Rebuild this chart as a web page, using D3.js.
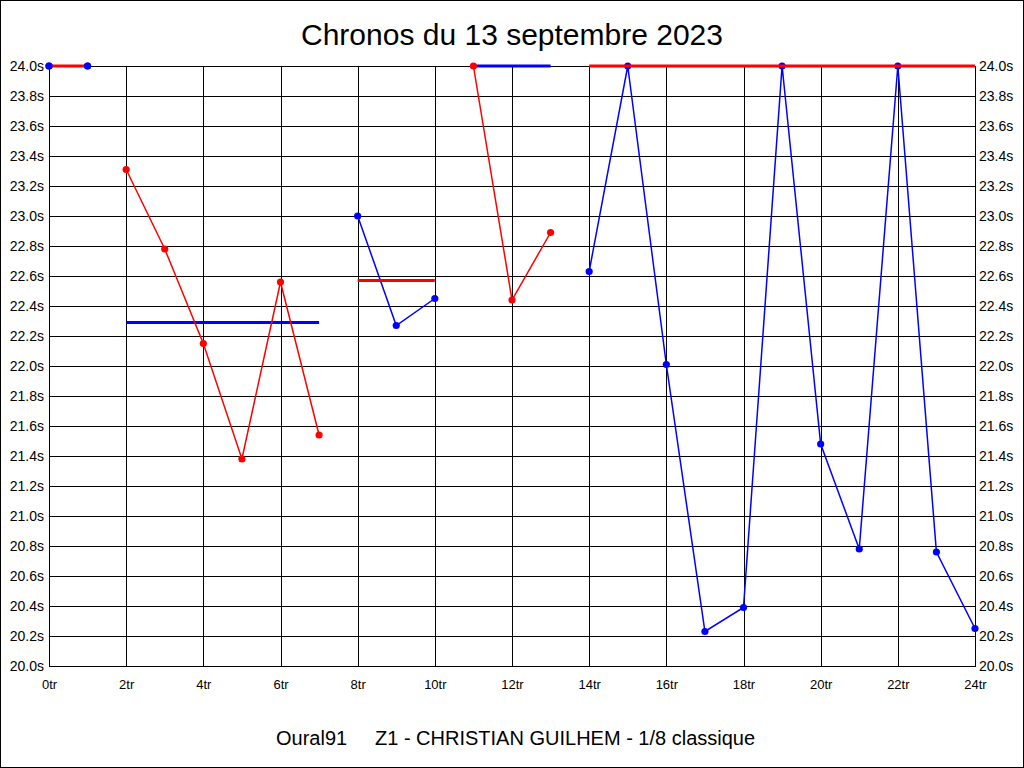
<!DOCTYPE html>
<html>
<head>
<meta charset="utf-8">
<script src="https://cdn.jsdelivr.net/npm/d3@7"></script>
<style>
  body { margin: 0; background: #fff; }
  svg { display: block; font-family: "Liberation Sans", Arial, sans-serif; }
</style>
</head>
<body>
<div class="chart"></div>
<script>
"use strict";
// tours (x) et chronos (y)
const xTicks = [0, 2, 4, 6, 8, 10, 12, 14, 16, 18, 20, 22, 24];
const yTicks = [20.0, 20.2, 20.4, 20.6, 20.8, 21.0, 21.2, 21.4, 21.6, 21.8, 22.0,
                22.2, 22.4, 22.6, 22.8, 23.0, 23.2, 23.4, 23.6, 23.8, 24.0];

// series rouge (relais)
const redRuns = [
    {laps: [2, 3, 4, 5, 6, 7], times: [23.31, 22.78, 22.15, 21.38, 22.56, 21.54]},
    {laps: [11, 12, 13], times: [24.0, 22.44, 22.89]}
];
// series bleue
const blueRuns = [
    {laps: [0, 1], times: [24.0, 24.0]},
    {laps: [8, 9, 10], times: [23.0, 22.27, 22.45]},
    {laps: [14, 15, 16, 17, 18, 19, 20, 21, 22, 23, 24],
     times: [22.63, 24.0, 22.01, 20.23, 20.39, 24.0, 21.48, 20.78, 24.0, 20.76, 20.25]}
];
// lignes epaisses (moyennes)
const redBars = [
    {from: 0, to: 1, value: 24.0},
    {from: 8, to: 10, value: 22.57},
    {from: 14, to: 24, value: 24.0}
];
const blueBars = [
    {from: 2, to: 7, value: 22.29},
    {from: 11, to: 13, value: 24.0}
];

const title = "Chronos du 13 septembre 2023";
const clubLabel = "Oural91";
const pilotLabel = "Z1 - CHRISTIAN GUILHEM - 1/8 classique";

const W = 1024, H = 768;
const margin = {top: 66, right: 49, bottom: 102, left: 49};
const width = W - margin.left - margin.right;
const height = H - margin.top - margin.bottom;

const svg = d3.select(".chart").append("svg")
    .attr("width", W)
    .attr("height", H);

svg.append("rect")
    .attr("x", 0.5).attr("y", 0.5)
    .attr("width", W - 1).attr("height", H - 1)
    .style("fill", "#fff").style("stroke", "#000");

const g = svg.append("g")
    .attr("transform", "translate(" + margin.left + "," + margin.top + ")");

let x = d3.scaleLinear().domain([0, 24]).range([0, width]);
let y = d3.scaleLinear().domain([20, 24]).range([height, 0]);

// grille + axes
let fmtY = d => d.toFixed(1) + "s";

g.append("g")
    .attr("class", "grid-x")
    .attr("transform", "translate(0," + height + ")")
    .call(d3.axisBottom(x).tickValues(xTicks).tickSize(-height).tickSizeOuter(0)
        .tickFormat(d => d + "tr"));

g.append("g")
    .attr("class", "grid-y")
    .call(d3.axisLeft(y).tickValues(yTicks).tickSize(-width).tickSizeOuter(0)
        .tickFormat(fmtY));

g.append("g")
    .attr("class", "axis-r")
    .attr("transform", "translate(" + width + ",0)")
    .call(d3.axisRight(y).tickValues(yTicks).tickSize(0).tickSizeOuter(0)
        .tickFormat(fmtY));

g.selectAll(".grid-x line, .grid-y line")
    .style("stroke", "#000")
    .style("shape-rendering", "crispEdges");
g.selectAll(".domain").remove();
g.selectAll(".tick text")
    .style("fill", "#000");
g.selectAll(".grid-y .tick text, .axis-r .tick text").style("font-size", "14px");
g.selectAll(".grid-x .tick text").style("font-size", "13px").attr("y", 14);
g.selectAll(".grid-y .tick text").attr("x", -5);
g.selectAll(".axis-r .tick text").attr("x", 4);

// cadre
g.append("rect")
    .attr("x", 0).attr("y", 0)
    .attr("width", width).attr("height", height)
    .style("fill", "none").style("stroke", "#000")
    .style("shape-rendering", "crispEdges");

let line = d3.line()
    .x(d => x(d.lap))
    .y(d => y(d.time));

function drawRuns(runs, color) {
    runs.forEach(function (run) {
        let pts = run.laps.map((l, i) => ({lap: l, time: run.times[i]}));
        g.append("path")
            .attr("d", line(pts))
            .style("fill", "none")
            .style("stroke", color)
            .style("stroke-width", "1.5px");
        g.selectAll(null)
            .data(pts)
            .enter()
            .append("circle")
            .attr("cx", d => x(d.lap))
            .attr("cy", d => y(d.time))
            .attr("r", 3.6)
            .style("fill", color);
    });
}

function drawBars(bars, color) {
    g.selectAll(null)
        .data(bars)
        .enter()
        .append("line")
        .attr("x1", d => x(d.from))
        .attr("x2", d => x(d.to))
        .attr("y1", d => y(d.value))
        .attr("y2", d => y(d.value))
        .style("stroke", color)
        .style("stroke-width", "3px");
}

drawBars(blueBars, "#0000ff");
drawRuns(redRuns, "#ff0000");
drawRuns(blueRuns, "#0000ff");
drawBars(redBars, "#ff0000");
// points bleus au-dessus des barres rouges
g.selectAll(null)
    .data(blueRuns[0].laps.map((l, i) => ({lap: l, time: blueRuns[0].times[i]})))
    .enter()
    .append("circle")
    .attr("cx", d => x(d.lap))
    .attr("cy", d => y(d.time))
    .attr("r", 3.6)
    .style("fill", "#0000ff");

svg.append("text")
    .attr("x", W / 2)
    .attr("y", 45)
    .attr("text-anchor", "middle")
    .style("font-size", "30px")
    .text(title);

svg.append("text")
    .attr("x", 276)
    .attr("y", 745)
    .style("font-size", "20px")
    .text(clubLabel);

svg.append("text")
    .attr("x", 375)
    .attr("y", 745)
    .style("font-size", "20px")
    .text(pilotLabel);
</script>
</body>
</html>
